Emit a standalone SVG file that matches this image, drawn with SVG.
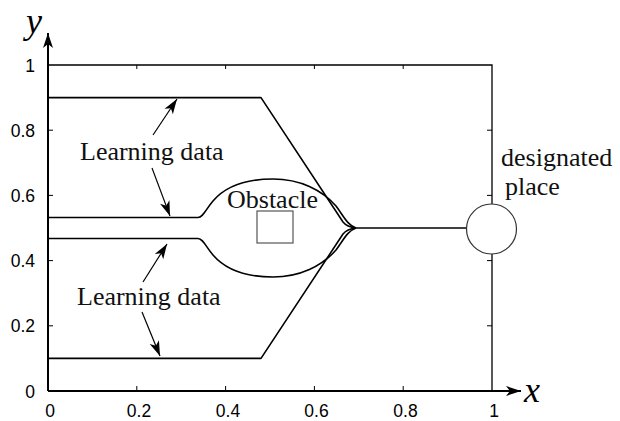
<svg xmlns="http://www.w3.org/2000/svg" width="620" height="421" viewBox="0 0 620 421">
<style>
.ax{stroke:#000;stroke-width:2;fill:none}
.fr{stroke:#000;stroke-width:1.3;fill:none}
.tk{stroke:#000;stroke-width:1;fill:none}
.cv{stroke:#000;stroke-width:1.6;fill:none;stroke-linejoin:round}
.ar{stroke:#000;stroke-width:1.2;fill:none}
.num{font-family:"Liberation Sans",Arial,sans-serif;font-size:17.5px;fill:#000}
.lbl{font-family:"Liberation Serif","Times New Roman",serif;font-size:26px;fill:#111}
.var{font-family:"Liberation Serif","Times New Roman",serif;font-style:italic;font-size:36px;fill:#000}
</style>
<defs>
<marker id="ah" markerUnits="userSpaceOnUse" viewBox="-16 -6 17 12" refX="0" refY="0" markerWidth="17" markerHeight="12" orient="auto">
<path d="M0,0 L-15,-5 L-11,0 L-15,5 Z" fill="#000"/>
</marker>
</defs>
<rect width="620" height="421" fill="#fff"/>
<g id="axes">
<path class="fr" d="M48,65 H492 V391"/>
<path class="ax" d="M48,391 V33" marker-end="url(#ah)"/>
<path class="ax" d="M48,391 H521" marker-end="url(#ah)"/>
<path class="tk" d="M48,325.8 h5 M48,260.6 h5 M48,195.4 h5 M48,130.2 h5 M136.8,391 v-5 M225.6,391 v-5 M314.4,391 v-5 M403.2,391 v-5 M136.8,65 v4 M225.6,65 v4 M314.4,65 v4 M403.2,65 v4 M492,325.8 h-5 M492,260.6 h-5 M492,195.4 h-5 M492,130.2 h-5"/>
<text class="var" x="26" y="33">y</text>
<text class="var" x="524" y="402">x</text>
<g class="num" text-anchor="end">
<text x="35" y="397.5">0</text>
<text x="35" y="332.3">0.2</text>
<text x="35" y="267.1">0.4</text>
<text x="35" y="201.9">0.6</text>
<text x="35" y="136.7">0.8</text>
<text x="35" y="71.5">1</text>
</g>
<g class="num" text-anchor="middle">
<text x="50" y="417">0</text>
<text x="139" y="417">0.2</text>
<text x="228" y="417">0.4</text>
<text x="316.5" y="417">0.6</text>
<text x="405.5" y="417">0.8</text>
<text x="494" y="417">1</text>
</g>
</g>
<g id="connectors">
<path class="cv" d="M48,97.6 H261 L343,222 Q347,227 356,228"/>
<path class="cv" d="M48,358.4 H261 L343,234 Q347,229 356,228"/>
<path class="cv" d="M48,217.5 H198 C203,217.5 206,209 213,201 C225,187 245,179 273,179 C300,179 322,190 336,206 C343,215 347,225 356,228"/>
<path class="cv" d="M48,238.5 H198 C203,238.5 206,247 213,255 C225,269 245,277 273,277 C300,277 322,266 336,250 C343,241 347,231 356,228"/>
<path class="cv" d="M352,228 H467" stroke-width="2.2"/>
<path class="ar" d="M153,135 L177,99" marker-end="url(#ah)"/>
<path class="ar" d="M152,168 L170,216" marker-end="url(#ah)"/>
<path class="ar" d="M143,282 L167,244" marker-end="url(#ah)"/>
<path class="ar" d="M142,312 L160,356" marker-end="url(#ah)"/>
</g>
<g id="obstacle">
<rect x="257" y="211" width="36" height="32" fill="none" stroke="#555" stroke-width="1.2"/>
<text class="lbl" x="227" y="208">Obstacle</text>
</g>
<g id="designated-place">
<circle cx="491.5" cy="229" r="25" fill="#fff" stroke="#333" stroke-width="1.2"/>
<text class="lbl" x="501" y="166">designated</text>
<text class="lbl" x="505" y="195">place</text>
</g>
<g id="label-top">
<text class="lbl" x="80" y="160">Learning data</text>
</g>
<g id="label-bottom">
<text class="lbl" x="77" y="305">Learning data</text>
</g>
</svg>
